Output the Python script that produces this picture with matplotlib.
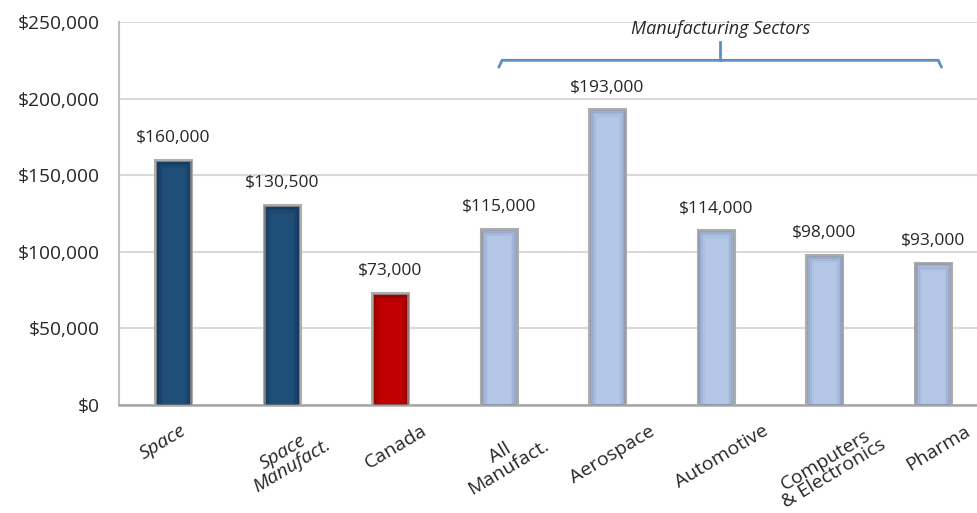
import matplotlib
matplotlib.use("Agg")
import matplotlib.pyplot as plt
from matplotlib.ticker import FuncFormatter
import numpy as np

plt.rcParams['font.family'] = ['Open Sans', 'DejaVu Sans']

# average salary by sector
categories = ["Space", "Space\nManufact.", "Canada", "All\nManufact.",
              "Aerospace", "Automotive", "Computers\n& Electronics", "Pharma"]
salaries = [160000, 130500, 73000, 115000, 193000, 114000, 98000, 93000]
italic_labels = [True, True, False, False, False, False, False, False]
bar_colors = ["#1f4e79", "#1f4e79", "#c00000", "#b4c7e7",
              "#b4c7e7", "#b4c7e7", "#b4c7e7", "#b4c7e7"]
shade_colors = ["#0a1f36", "#0a1f36", "#600000", "#6f86ad",
                "#6f86ad", "#6f86ad", "#6f86ad", "#6f86ad"]
yticks = [0, 50000, 100000, 150000, 200000, 250000]

fig = plt.figure(figsize=(9.78, 5.13), dpi=100)
ax = fig.add_axes([0.1217, 0.2105, 0.8876, 0.7466])

x = np.arange(len(categories))
bw = 0.33
ax.bar(x, salaries, width=bw, color=bar_colors, edgecolor="#adadad",
       linewidth=2.2, zorder=3)
# darker inner rims fading inward, for the bevelled look
for k, a in enumerate([0.35, 0.2, 0.1]):
    inset = 0.012 + k * 0.018
    ax.bar(x, [v - 1200 - k * 1500 for v in salaries], width=bw - 2 * inset,
           color="none", edgecolor=shade_colors, linewidth=2.0, alpha=a, zorder=4)

for xi, v in zip(x, salaries):
    ax.text(xi, v + 9000, "${:,.0f}".format(v), ha="center", va="bottom",
            fontsize=12.5, color="#262626")

ax.set_xlim(-0.5, len(categories) - 0.5)
ax.set_ylim(0, 250000)
ax.set_yticks(yticks)
ax.yaxis.set_major_formatter(FuncFormatter(lambda v, p: "${:,.0f}".format(v)))
ax.tick_params(axis="y", length=0, labelsize=13.8, labelcolor="#262626", pad=14)
ax.grid(axis="y", color="#d9d9d9", linewidth=1.5, zorder=0)
ax.set_axisbelow(True)

ax.set_xticks(x)
ax.set_xticklabels([])
ax.tick_params(axis="x", length=0)
for xi, lab, it in zip(x, categories, italic_labels):
    dx = -0.1 if lab == "Space" else 0.05
    ax.text(xi + dx, -11000, lab, rotation=31, ha="center", va="top",
            multialignment="center", fontsize=14, color="#262626",
            style="italic" if it else "normal", linespacing=0.88)

for side in ["top", "right"]:
    ax.spines[side].set_visible(False)
ax.spines["left"].set_color("#bfbfbf")
ax.spines["left"].set_linewidth(1.5)
ax.spines["bottom"].set_color("#a6a6a6")
ax.spines["bottom"].set_linewidth(1.8)

# bracket over the manufacturing sectors
bc = "#5b8fc4"
bx0, bx1 = 3.0, 7.08
by = 225000
ax.plot([bx0, bx0 + 0.03, bx1 - 0.03, bx1], [220500, by, by, 220500],
        color=bc, linewidth=2, clip_on=False, zorder=5, solid_capstyle="round")
bmid = (bx0 + bx1) / 2
ax.plot([bmid, bmid], [by, 237000], color=bc, linewidth=2, clip_on=False, zorder=5)
ax.text(bmid, 245500, "Manufacturing Sectors", ha="center", va="center",
        fontsize=13, style="italic", color="#262626")

fig.savefig("out.png", dpi=100)
